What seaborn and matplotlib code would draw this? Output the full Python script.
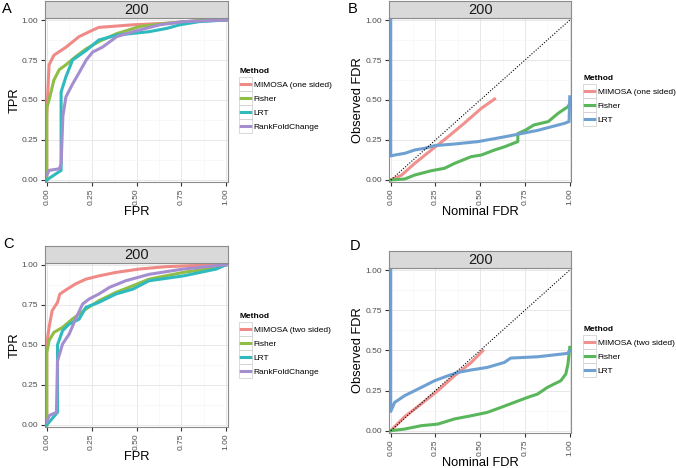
import numpy as np
import pandas as pd
import matplotlib
matplotlib.use("Agg")
import matplotlib.pyplot as plt
import seaborn as sns
from matplotlib.legend_handler import HandlerLine2D
from matplotlib.patches import Rectangle

# ---- data ----
# Panel A: ROC, one sided
a_mimosa_fpr = [0, 0, 0.013, 0.04, 0.107, 0.18, 0.256, 0.29, 0.48, 0.67, 0.85, 1.0]
a_mimosa_tpr = [0, 0.40, 0.72, 0.78, 0.83, 0.896, 0.937, 0.954, 0.97, 0.98, 0.996, 1.0]
a_fisher_fpr = [0, 0, 0.013, 0.04, 0.07, 0.107, 0.16, 0.22, 0.29, 0.39, 0.52, 0.67, 0.85, 1.0]
a_fisher_tpr = [0, 0.45, 0.50, 0.625, 0.69, 0.72, 0.77, 0.82, 0.865, 0.915, 0.96, 0.98, 0.996, 1.0]
a_lrt_fpr = [0, 0.08, 0.08, 0.107, 0.144, 0.22, 0.29, 0.39, 0.57, 0.67, 0.74, 0.85, 1.0]
a_lrt_tpr = [0, 0.06, 0.55, 0.646, 0.75, 0.81, 0.875, 0.906, 0.927, 0.948, 0.97, 0.99, 1.0]
a_rank_fpr = [0, 0.013, 0.07, 0.08, 0.09, 0.107, 0.144, 0.18, 0.22, 0.256, 0.31, 0.39, 0.48, 0.63, 0.76, 1.0]
a_rank_tpr = [0.03, 0.06, 0.07, 0.10, 0.40, 0.52, 0.60, 0.67, 0.75, 0.80, 0.83, 0.896, 0.927, 0.97, 0.99, 1.0]

# Panel B: FDR, one sided
b_mimosa_nom = [0, 0.06, 0.134, 0.227, 0.32, 0.41, 0.506, 0.58]
b_mimosa_obs = [0, 0.03, 0.104, 0.1875, 0.27, 0.354, 0.448, 0.506]
b_fisher_nom = [0, 0.078, 0.134, 0.227, 0.30, 0.357, 0.45, 0.506, 0.58, 0.637, 0.71, 0.71, 0.75, 0.80, 0.88, 0.935, 0.99, 1.0]
b_fisher_obs = [0, 0.006, 0.031, 0.058, 0.073, 0.104, 0.146, 0.156, 0.1875, 0.208, 0.24, 0.29, 0.31, 0.344, 0.365, 0.417, 0.458, 0.48]
b_lrt_nom = [0, 0, 0.022, 0.08, 0.134, 0.19, 0.246, 0.357, 0.488, 0.637, 0.82, 0.97, 0.996, 1.0]
b_lrt_obs = [1.0, 0.15, 0.156, 0.167, 0.1875, 0.198, 0.215, 0.225, 0.24, 0.27, 0.31, 0.354, 0.365, 0.52]

# Panel C: ROC, two sided
c_mimosa_fpr = [0, 0, 0.013, 0.03, 0.06, 0.073, 0.106, 0.16, 0.218, 0.29, 0.385, 0.516, 0.665, 0.85, 1.0]
c_mimosa_tpr = [0, 0.50, 0.61, 0.713, 0.765, 0.817, 0.842, 0.88, 0.91, 0.93, 0.952, 0.973, 0.988, 0.996, 1.0]
c_fisher_fpr = [0, 0, 0.013, 0.04, 0.088, 0.143, 0.218, 0.29, 0.385, 0.48, 0.57, 0.76, 0.944, 1.0]
c_fisher_tpr = [0, 0.45, 0.526, 0.578, 0.609, 0.661, 0.723, 0.775, 0.827, 0.869, 0.91, 0.952, 0.983, 1.0]
c_lrt_fpr = [0, 0.06, 0.06, 0.088, 0.125, 0.18, 0.218, 0.29, 0.385, 0.48, 0.57, 0.76, 0.944, 1.0]
c_lrt_tpr = [0, 0.079, 0.50, 0.588, 0.63, 0.66, 0.734, 0.765, 0.817, 0.848, 0.90, 0.93, 0.973, 1.0]
c_rank_fpr = [0, 0.013, 0.054, 0.06, 0.088, 0.125, 0.16, 0.20, 0.236, 0.29, 0.35, 0.44, 0.57, 0.76, 0.944, 1.0]
c_rank_tpr = [0.017, 0.058, 0.079, 0.40, 0.505, 0.567, 0.66, 0.755, 0.786, 0.817, 0.859, 0.90, 0.94, 0.973, 0.994, 1.0]

# Panel D: FDR, two sided
d_mimosa_nom = [0, 0.078, 0.17, 0.263, 0.356, 0.45, 0.514]
d_mimosa_obs = [0, 0.087, 0.166, 0.249, 0.342, 0.425, 0.498]
d_fisher_nom = [0, 0.078, 0.17, 0.263, 0.356, 0.45, 0.54, 0.616, 0.69, 0.764, 0.82, 0.876, 0.95, 0.978, 0.99, 1.0]
d_fisher_obs = [0, 0.01, 0.031, 0.041, 0.073, 0.093, 0.114, 0.145, 0.176, 0.207, 0.228, 0.27, 0.311, 0.353, 0.415, 0.519]
d_lrt_nom = [0, 0, 0.022, 0.078, 0.134, 0.19, 0.245, 0.32, 0.375, 0.45, 0.54, 0.635, 0.67, 0.82, 0.987, 1.0]
d_lrt_obs = [1.0, 0.12, 0.176, 0.218, 0.249, 0.28, 0.311, 0.342, 0.363, 0.378, 0.394, 0.425, 0.452, 0.46, 0.481, 0.498]

roc_colors = ["#EF8A87", "#8FBD45", "#2FBAC0", "#A48ECF"]
fdr_colors = ["#F0918F", "#5AB65B", "#6FA0D2"]

W, H = 676, 468


class BoxedLine(HandlerLine2D):
    # ggplot-style legend key: line inside a light grey square (sizes in points)
    def create_artists(self, legend, orig_handle, xdescent, ydescent, width, height, fontsize, trans):
        artists = list(super().create_artists(legend, orig_handle, xdescent, ydescent,
                                              width, height, fontsize, trans))
        yc = (height - ydescent) / 2
        rect = Rectangle((-xdescent - 0.7, yc - 5), width + 1.4, 10,
                         fill=False, ec="#d3d3d3", lw=0.6, transform=trans)
        return artists + [rect]


def long_df(series):
    rows = []
    for name, xs, ys in series:
        for i, (x, y) in enumerate(zip(xs, ys)):
            rows.append((name, i, x, y))
    return pd.DataFrame(rows, columns=["Method", "order", "x", "y"])


def px_axes(fig, left, top, right, bottom):
    return fig.add_axes([left / W, 1 - bottom / H, (right - left) / W, (bottom - top) / H])


def make_panel(fig, box, strip, series, colors, xlabel, ylabel, letter, letter_xy,
               legend_xy, diag=False):
    ax = px_axes(fig, *box)
    df = long_df(series)
    names = [s[0] for s in series]
    sns.lineplot(data=df, x="x", y="y", hue="Method", hue_order=names,
                 palette=colors, sort=False, estimator=None, units="Method",
                 lw=2.2, ax=ax, legend=True)
    if diag:
        ax.plot([0, 1], [0, 1], ls=(0, (1, 1.5)), color="black", lw=0.8)
    ax.set_xlim(-0.008, 1.008)
    ax.set_ylim(-0.012, 1.012)
    ticks = [0, 0.25, 0.5, 0.75, 1.0]
    labels = ["0.00", "0.25", "0.50", "0.75", "1.00"]
    ax.set_xticks(ticks)
    ax.set_xticklabels(labels, rotation=90)
    ax.set_yticks(ticks)
    ax.set_yticklabels(labels)
    ax.set_xticks([0.125, 0.375, 0.625, 0.875], minor=True)
    ax.set_yticks([0.125, 0.375, 0.625, 0.875], minor=True)
    ax.grid(True, which="major", color="#e8e8e8", lw=0.7)
    ax.grid(True, which="minor", color="#f5f5f5", lw=0.5)
    ax.set_axisbelow(True)
    ax.tick_params(which="major", length=3, width=0.8, color="#333333",
                   labelsize=6, labelcolor="#4d4d4d", pad=2)
    ax.tick_params(which="minor", length=0)
    for sp in ax.spines.values():
        sp.set_color("#8c8c8c")
        sp.set_linewidth(0.8)
    ax.set_xlabel(xlabel, fontsize=9.3, labelpad=0.5)
    ax.set_ylabel(ylabel, fontsize=9.3, labelpad=1)

    # facet strip
    sax = px_axes(fig, box[0], strip[0], box[2], strip[1])
    sax.set_facecolor("#d9d9d9")
    sax.set_xticks([])
    sax.set_yticks([])
    for sp in sax.spines.values():
        sp.set_color("#8c8c8c")
        sp.set_linewidth(0.8)
    sax.text(0.5, 0.45, "200", ha="center", va="center", fontsize=10.5,
             color="#1a1a1a", transform=sax.transAxes)

    fig.text(letter_xy[0] / W, 1 - letter_xy[1] / H, letter, fontsize=10.5,
             ha="center", va="center")

    leg = ax.legend(title="Method", loc="upper left",
                    bbox_to_anchor=(legend_xy[0] / W, 1 - legend_xy[1] / H),
                    bbox_transform=fig.transFigure, frameon=False, fontsize=6,
                    title_fontsize=6, handlelength=1.35, handletextpad=0.35,
                    labelspacing=0.75, borderpad=0.2, borderaxespad=0,
                    handler_map={matplotlib.lines.Line2D: BoxedLine()})
    leg.get_title().set_fontweight("bold")
    leg._legend_box.align = "left"
    for line in leg.get_lines():
        line.set_linewidth(2.2)
    return ax


plt.rcParams["font.family"] = ["Liberation Sans", "DejaVu Sans"]
fig = plt.figure(figsize=(W / 100, H / 100), dpi=100)

make_panel(fig, (45.3, 18.1, 227.7, 181.9), (1, 18.1),
           [("MIMOSA (one sided)", a_mimosa_fpr, a_mimosa_tpr),
            ("Fisher", a_fisher_fpr, a_fisher_tpr),
            ("LRT", a_lrt_fpr, a_lrt_tpr),
            ("RankFoldChange", a_rank_fpr, a_rank_tpr)],
           roc_colors, "FPR", "TPR", "A", (6.7, 9), (238, 66))

make_panel(fig, (389.3, 18.1, 571.2, 181.9), (1, 18.1),
           [("MIMOSA (one sided)", b_mimosa_nom, b_mimosa_obs),
            ("Fisher", b_fisher_nom, b_fisher_obs),
            ("LRT", b_lrt_nom, b_lrt_obs)],
           fdr_colors, "Nominal FDR", "Observed FDR", "B", (352.5, 9), (582, 73), diag=True)

make_panel(fig, (45.3, 262.8, 227.7, 426.9), (246.5, 262.8),
           [("MIMOSA (two sided)", c_mimosa_fpr, c_mimosa_tpr),
            ("Fisher", c_fisher_fpr, c_fisher_tpr),
            ("LRT", c_lrt_fpr, c_lrt_tpr),
            ("RankFoldChange", c_rank_fpr, c_rank_tpr)],
           roc_colors, "FPR", "TPR", "C", (8, 243.5), (238, 311))

make_panel(fig, (389.3, 268.1, 571.2, 432.6), (251, 268.1),
           [("MIMOSA (two sided)", d_mimosa_nom, d_mimosa_obs),
            ("Fisher", d_fisher_nom, d_fisher_obs),
            ("LRT", d_lrt_nom, d_lrt_obs)],
           fdr_colors, "Nominal FDR", "Observed FDR", "D", (355, 246), (582, 324), diag=True)

fig.savefig("out.png", dpi=100)
